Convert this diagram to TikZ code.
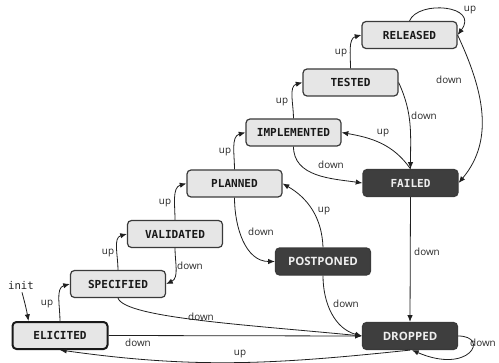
\documentclass[tikz,border=0pt]{standalone}
\usepackage{fontspec}
\setmainfont{Open Sans}
\newfontfamily\statefont{DejaVu Sans Mono}
\newfontfamily\darkfont{Open Sans}
\usetikzlibrary{arrows.meta}
\definecolor{lightfill}{HTML}{E6E6E6}
\definecolor{darkfill}{HTML}{3E3E3E}
\definecolor{boxline}{HTML}{3A3A3A}
\definecolor{edgeline}{HTML}{202020}
\definecolor{darktext}{HTML}{EEEEEE}
\tikzset{
  statebox/.style={rectangle, rounded corners=3pt, draw=boxline, line width=0.9pt,
    minimum width=71.25pt, minimum height=20.25pt, inner sep=0pt,
    text height=6.2pt, text depth=0pt},
  light/.style={statebox, fill=lightfill, text=black!90,
    font=\statefont\bfseries\fontsize{8.3}{9}\selectfont},
  initial/.style={light, draw=black!90, line width=1.5pt},
  heavy/.style={statebox, fill=darkfill, text=darktext,
    font=\statefont\bfseries\fontsize{8.3}{9}\selectfont},
  heavysans/.style={statebox, fill=darkfill, text=darktext,
    font=\darkfont\bfseries\fontsize{8.6}{9}\selectfont},
  trans/.style={draw=edgeline, line width=0.6pt, -{Latex[length=5pt,width=4pt]}},
  lbl/.style={font=\fontsize{7.4}{8}\selectfont, text=black!85, inner sep=0pt}
}
\begin{document}
\begin{tikzpicture}[x=0.75pt,y=-0.75pt]
\useasboundingbox (0,0) rectangle (499,363);

% states
\node[initial] (elicited)  at (60,335.5)  {ELICITED};
\node[light] (specified)   at (118,284)   {SPECIFIED};
\node[light] (validated)   at (175,234)   {VALIDATED};
\node[light] (planned)     at (234.5,183.5) {PLANNED};
\node[light] (implemented) at (293.5,132.5) {IMPLEMENTED};
\node[light] (tested)      at (350.5,82.5)  {TESTED};
\node[light] (released)    at (409.5,35)    {RELEASED};
\node[heavy] (failed)      at (410.5,183)   {FAILED};
\node[heavysans] (postponed) at (323,261.5) {POSTPONED};
\node[heavysans] (dropped)   at (410,336)   {DROPPED};

% initial transition
\node[lbl, font=\statefont\fontsize{8}{9}\selectfont] (init) at (21,285) {init};
\draw[trans] (init.south) ++(1,3) coordinate (initstart)
  (initstart) to[out=-75,in=100] ([xshift=12.75pt]elicited.north west);

% promotions
\draw[trans] (elicited.north) to[out=90,in=195] (specified.west)
  node[lbl] at (47,304) {up};
\draw[trans] (specified.north) to[out=90,in=195] (validated.west)
  node[lbl] at (108,253) {up};
\draw[trans] (validated.north) to[out=90,in=195] (planned.west)
  node[lbl] at (165,203) {up};
\draw[trans] (planned.north) to[out=90,in=195] (implemented.west)
  node[lbl] at (225,152) {up};
\draw[trans] (implemented.north) to[out=90,in=195] (tested.west)
  node[lbl] at (282,102) {up};
\draw[trans] (tested.north) to[out=90,in=195] (released.west)
  node[lbl] at (341,53) {up};
\draw[trans] (released.north) .. controls (418,0) and (480,5) .. (released.east)
  node[lbl] at (470,10) {up};
\draw[trans] (failed.north) to[out=125,in=-10] (implemented.east)
  node[lbl] at (383,133) {up};
\draw[trans] (postponed.north) to[out=92,in=-30] (planned.east)
  node[lbl] at (324,211) {up};
\draw[trans] (dropped.south) to[out=186,in=-8] (elicited.south)
  node[lbl] at (240,354) {up};

% demotions
\draw[trans] (validated.south) to[out=-90,in=25] (specified.east)
  node[lbl] at (190,266) {down};
\draw[trans] (planned.south) to[out=-90,in=180] (postponed.west)
  node[lbl] at (261,232) {down};
\draw[trans] (implemented.south) to[out=-90,in=172] (failed.west)
  node[lbl] at (331,165) {down};
\draw[trans] (tested.east) to[out=-65,in=90] (failed.north)
  node[lbl] at (424,116) {down};
\draw[trans] (released.east) to[out=-65,in=50] (failed.east)
  node[lbl] at (449,80) {down};
\draw[trans] (failed.south) -- (dropped.north)
  node[lbl] at (427,252) {down};
\draw[trans] (postponed.south) to[out=-90,in=165] (dropped.west)
  node[lbl] at (346,304) {down};
\draw[trans] (specified.south) .. controls (125,318) and (250,325) .. (dropped.west)
  node[lbl] at (201,317) {down};
\draw[trans] (elicited.east) -- (dropped.west)
  node[lbl] at (138,343) {down};
\draw[trans] (dropped.east) .. controls (490,336) and (470,375) .. ([xshift=1.5pt]dropped.south)
  node[lbl] at (483,343) {down};
\end{tikzpicture}
\end{document}
